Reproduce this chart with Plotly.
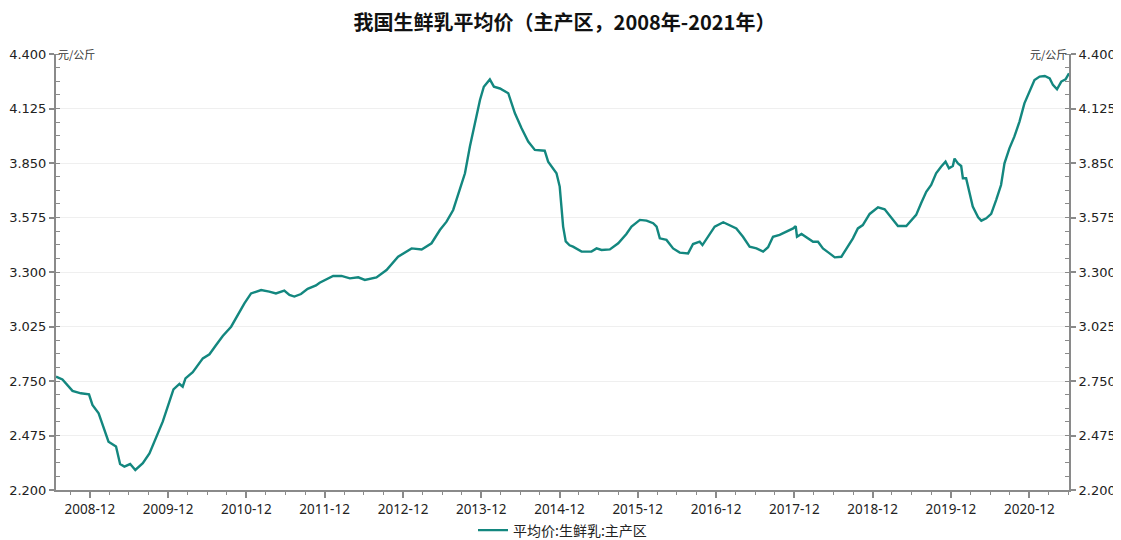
import plotly.graph_objects as go

dates = [
    "2008-06-26", "2008-07-26", "2008-09-11", "2008-10-20", "2008-11-27", "2008-12-13",
    "2009-01-11", "2009-01-30", "2009-02-26", "2009-04-02", "2009-04-21", "2009-05-11",
    "2009-06-07", "2009-07-01", "2009-08-05", "2009-09-05", "2009-10-06", "2009-11-06",
    "2009-12-07", "2009-12-26", "2010-01-23", "2010-02-07", "2010-02-20", "2010-03-26",
    "2010-05-12", "2010-06-12", "2010-07-13", "2010-08-13", "2010-09-21", "2010-10-22",
    "2010-11-22", "2010-12-23", "2011-01-15", "2011-02-08", "2011-03-18", "2011-04-18",
    "2011-05-27", "2011-06-20", "2011-07-13", "2011-08-13", "2011-09-13", "2011-10-22",
    "2011-11-08", "2012-01-10", "2012-02-18", "2012-03-28", "2012-05-06", "2012-06-06",
    "2012-07-30", "2012-09-15", "2012-11-08", "2012-12-09", "2013-01-10", "2013-02-26",
    "2013-04-13", "2013-05-22", "2013-06-22", "2013-07-23", "2013-08-23", "2013-09-16",
    "2013-10-09", "2013-11-01", "2013-11-25", "2013-12-13", "2014-01-10", "2014-01-29",
    "2014-02-26", "2014-04-06", "2014-05-07", "2014-06-07", "2014-07-08", "2014-08-08",
    "2014-09-23", "2014-10-09", "2014-11-17", "2014-12-02", "2014-12-10", "2014-12-18",
    "2014-12-30", "2015-01-17", "2015-02-02", "2015-03-14", "2015-04-29", "2015-05-23",
    "2015-06-15", "2015-07-24", "2015-09-01", "2015-10-09", "2015-11-02", "2015-11-17",
    "2015-12-11", "2016-01-11", "2016-02-11", "2016-02-27", "2016-03-13", "2016-04-13",
    "2016-05-14", "2016-06-14", "2016-07-23", "2016-08-15", "2016-09-15", "2016-09-28",
    "2016-10-24", "2016-11-24", "2017-01-03", "2017-02-10", "2017-03-05", "2017-04-05",
    "2017-05-06", "2017-06-07", "2017-07-08", "2017-07-31", "2017-08-23", "2017-09-23",
    "2017-10-24", "2017-11-25", "2017-12-07", "2017-12-13", "2018-01-03", "2018-02-03",
    "2018-02-26", "2018-03-21", "2018-04-13", "2018-05-14", "2018-06-07", "2018-07-08",
    "2018-07-31", "2018-08-31", "2018-09-23", "2018-10-16", "2018-11-17", "2018-12-26",
    "2019-01-26", "2019-02-26", "2019-03-29", "2019-05-07", "2019-05-30", "2019-06-22",
    "2019-07-15", "2019-08-08", "2019-08-31", "2019-09-23", "2019-10-17", "2019-11-06",
    "2019-11-22", "2019-12-10", "2019-12-18", "2020-01-03", "2020-01-18", "2020-01-26",
    "2020-02-10", "2020-02-26", "2020-03-12", "2020-04-06", "2020-04-21", "2020-05-14",
    "2020-06-06", "2020-06-29", "2020-07-22", "2020-08-07", "2020-08-30", "2020-09-22",
    "2020-10-16", "2020-11-08", "2020-12-01", "2020-12-25", "2021-01-18", "2021-02-11",
    "2021-03-06", "2021-03-21", "2021-04-09", "2021-04-29", "2021-05-19", "2021-06-04",
]

prices = [
    2.772, 2.758, 2.700, 2.688, 2.683, 2.629,
    2.587, 2.528, 2.444, 2.419, 2.331, 2.318,
    2.331, 2.301, 2.335, 2.385, 2.461, 2.545,
    2.646, 2.708, 2.735, 2.721, 2.763, 2.794,
    2.864, 2.885, 2.932, 2.977, 3.024, 3.083,
    3.142, 3.192, 3.201, 3.209, 3.201, 3.192,
    3.206, 3.184, 3.176, 3.189, 3.215, 3.232,
    3.246, 3.280, 3.280, 3.268, 3.273, 3.260,
    3.273, 3.310, 3.377, 3.399, 3.419, 3.414,
    3.445, 3.512, 3.554, 3.613, 3.714, 3.798,
    3.933, 4.050, 4.168, 4.235, 4.272, 4.235,
    4.226, 4.202, 4.101, 4.025, 3.958, 3.916,
    3.912, 3.857, 3.798, 3.731, 3.630, 3.529,
    3.454, 3.435, 3.428, 3.403, 3.403, 3.419,
    3.411, 3.414, 3.445, 3.492, 3.529, 3.542,
    3.563, 3.559, 3.546, 3.529, 3.470, 3.462,
    3.419, 3.398, 3.394, 3.441, 3.453, 3.436,
    3.478, 3.529, 3.551, 3.532, 3.520, 3.478,
    3.428, 3.419, 3.403, 3.425, 3.478, 3.487,
    3.504, 3.520, 3.532, 3.478, 3.492, 3.470,
    3.453, 3.453, 3.419, 3.394, 3.374, 3.377,
    3.419, 3.470, 3.520, 3.537, 3.593, 3.626,
    3.616, 3.571, 3.532, 3.532, 3.563, 3.588,
    3.647, 3.705, 3.739, 3.798, 3.832, 3.857,
    3.823, 3.835, 3.872, 3.848, 3.835, 3.773,
    3.773, 3.697, 3.630, 3.576, 3.559, 3.571,
    3.593, 3.663, 3.739, 3.848, 3.924, 3.983,
    4.059, 4.151, 4.210, 4.269, 4.286, 4.289,
    4.277, 4.244, 4.222, 4.261, 4.272, 4.303,
]

title = "我国生鲜乳平均价（主产区，2008年-2021年）"
series_name = "平均价:生鲜乳:主产区"
unit = "元/公斤"
y_ticks = [2.200, 2.475, 2.750, 3.025, 3.300, 3.575, 3.850, 4.125, 4.400]
y_tick_labels = ["2.200", "2.475", "2.750", "3.025", "3.300", "3.575", "3.850", "4.125", "4.400"]
x_range = ["2008-06-26", "2021-06-04"]

FONT = "Noto Sans CJK SC"
YNUMFONT = "DejaVu Sans"
XNUMFONT = "Noto Sans"
LINE = "#13877f"
AXIS = "#8a8a8a"

# the page body adds an 8px offset, so the figure is 8px smaller on each side
W, H = 1113, 532

fig = go.Figure()
fig.add_trace(go.Scatter(x=dates, y=prices, mode="lines", name=series_name,
                         line=dict(color=LINE, width=2.4)))
fig.add_trace(go.Scatter(x=dates, y=prices, mode="lines", yaxis="y2",
                         showlegend=False, hoverinfo="skip",
                         line=dict(color="rgba(0,0,0,0)", width=0)))

yaxis_common = dict(
    range=[2.2, 4.4], tickvals=y_ticks, ticktext=y_tick_labels,
    showline=True, linecolor=AXIS, linewidth=2, ticks="outside", ticklen=5,
    tickcolor=AXIS, tickwidth=1.5,
    tickfont=dict(family=YNUMFONT, size=13, color="#222"),
    minor=dict(dtick=0.06875, tick0=2.2, ticks="inside", ticklen=4,
               tickcolor=AXIS, tickwidth=1.2, showgrid=False),
    zeroline=False, fixedrange=True, automargin=False,
)

fig.update_layout(
    width=W, height=H,
    margin=dict(l=48, r=52, t=46, b=50, autoexpand=False),
    paper_bgcolor="white", plot_bgcolor="white",
    font=dict(family=FONT, color="#222"),
    title=dict(text="<b>" + title + "</b>", x=0.5, xanchor="center",
               yref="container", y=0.971, yanchor="middle",
               font=dict(family=FONT, size=20, color="#111")),
    xaxis=dict(
        type="date", range=x_range,
        tick0="2008-12-01", dtick="M12", tickformat="%Y-%m",
        showline=True, linecolor=AXIS, linewidth=2,
        ticks="outside", ticklen=6, tickcolor=AXIS, tickwidth=1.5,
        tickfont=dict(family=XNUMFONT, size=13.5, color="#222"),
        minor=dict(dtick="M3", tick0="2008-12-01", ticks="outside", ticklen=3,
                   tickcolor=AXIS, tickwidth=1.2, showgrid=False),
        showgrid=False, zeroline=False, automargin=False,
    ),
    yaxis=dict(side="left", showgrid=True, gridcolor="#efefef", gridwidth=1, **yaxis_common),
    yaxis2=dict(side="right", overlaying="y", showgrid=False, **yaxis_common),
    legend=dict(orientation="h", x=0.5, xanchor="center", y=-0.093, yanchor="middle",
                font=dict(family=FONT, size=14, color="#222"), bgcolor="rgba(0,0,0,0)"),
    annotations=[
        dict(text=unit, xref="paper", yref="paper", x=0.0, y=1.0, xanchor="left",
             yanchor="middle", showarrow=False, font=dict(family=FONT, size=11, color="#333")),
        dict(text=unit, xref="paper", yref="paper", x=1.0, y=1.0, xanchor="right",
             yanchor="middle", showarrow=False, font=dict(family=FONT, size=11, color="#333")),
    ],
    showlegend=True,
)

fig.write_html("out.html")
